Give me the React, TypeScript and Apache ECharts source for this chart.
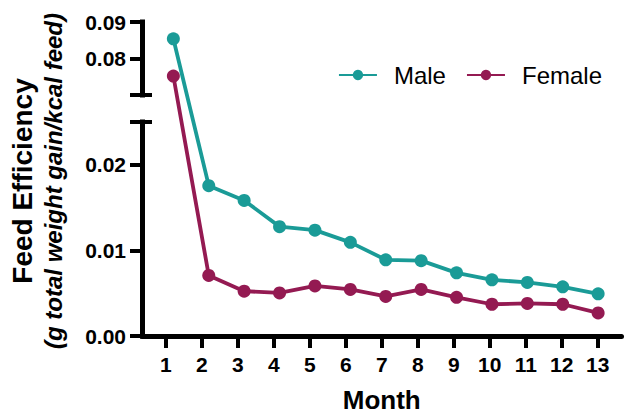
import React, { useEffect, useRef } from 'react';
import * as echarts from 'echarts';

// ---- data ----
const months = [1, 2, 3, 4, 5, 6, 7, 8, 9, 10, 11, 12, 13];
const maleValues = [0.0854, 0.0177, 0.016, 0.013, 0.0126, 0.0112, 0.0092, 0.0091, 0.0077, 0.0069, 0.0066, 0.0061, 0.0053];
const femaleValues = [0.0752, 0.0074, 0.0056, 0.0054, 0.0062, 0.0058, 0.005, 0.0058, 0.0049, 0.0041, 0.0042, 0.0041, 0.0031];
const seriesNames = ['Male', 'Female'];
const lowerTicks = [0, 0.01, 0.02];
const upperTicks = [0.08, 0.09];
const lowerRange = [0, 0.025];
const upperRange = [0.07, 0.09];

// ---- style / layout ----
const COLORS = ['#1a9b97', '#941a52'];
const FONT = '"Liberation Sans", Arial, Helvetica, sans-serif';
const LEFT = 142;
const RIGHT = 3.5;
const UPPER_TOP = 22;
const UPPER_H = 73;
const GAP_H = 27;
const LOWER_H = 218;
const LOWER_TOP = UPPER_TOP + UPPER_H + GAP_H;
const TOTAL_H = UPPER_H + GAP_H + LOWER_H;
const X_MIN = 0.34;
const X_MAX = 13.66;

// maps a value onto the broken axis (display units = pixels from the bottom)
function toDisplay(v: number): number {
  if (v <= lowerRange[1]) {
    return ((v - lowerRange[0]) / (lowerRange[1] - lowerRange[0])) * LOWER_H;
  }
  return LOWER_H + GAP_H + ((v - upperRange[0]) / (upperRange[1] - upperRange[0])) * UPPER_H;
}

const black = '#000';
const tickLabel = { color: black, fontFamily: FONT, fontWeight: 'bold' as const, fontSize: 21 };

function segmentAxes(gridIndex: number, range: number[], ticks: number[], topTick: boolean) {
  const capValue = topTick ? range[0] : range[1];
  return [
    {
      type: 'value',
      gridIndex,
      min: range[0],
      max: range[1],
      position: 'left',
      axisLine: { show: true, onZero: false, lineStyle: { color: black, width: 5, cap: 'square' } },
      axisTick: {
        show: true,
        length: 12,
        lineStyle: { color: black, width: 4 },
        customValues: topTick ? [range[0], ...ticks] : [...ticks, range[1]],
      },
      axisLabel: {
        ...tickLabel,
        margin: 16,
        customValues: ticks,
        formatter: (v: number) => v.toFixed(2),
      },
      splitLine: { show: false },
    },
    {
      type: 'value',
      gridIndex,
      min: range[0],
      max: range[1],
      position: 'left',
      axisLine: { show: false },
      axisTick: { show: true, inside: true, length: 10, lineStyle: { color: black, width: 4 }, customValues: [capValue] },
      axisLabel: { show: false },
      splitLine: { show: false },
    },
  ];
}

const option: any = {
  animation: false,
  backgroundColor: '#fff',
  grid: [
    { left: LEFT, right: RIGHT, top: LOWER_TOP, height: LOWER_H },
    { left: LEFT, right: RIGHT, top: UPPER_TOP, height: UPPER_H },
    { left: LEFT, right: RIGHT, top: UPPER_TOP, height: TOTAL_H },
  ],
  xAxis: [
    {
      type: 'value',
      gridIndex: 0,
      min: X_MIN,
      max: X_MAX,
      axisLine: { show: true, onZero: false, lineStyle: { color: black, width: 5 } },
      axisTick: { show: true, length: 12, lineStyle: { color: black, width: 4 }, customValues: months },
      axisLabel: { ...tickLabel, margin: 18, customValues: months },
      splitLine: { show: false },
      name: 'Month',
      nameLocation: 'middle',
      nameGap: 51,
      nameTextStyle: { color: black, fontFamily: FONT, fontWeight: 'bold', fontSize: 26 },
    },
    { type: 'value', gridIndex: 1, min: X_MIN, max: X_MAX, show: false },
    { type: 'value', gridIndex: 2, min: X_MIN, max: X_MAX, show: false },
  ],
  yAxis: [
    ...segmentAxes(0, lowerRange, lowerTicks, false),
    ...segmentAxes(1, upperRange, upperTicks, true),
    {
      type: 'value',
      gridIndex: 2,
      min: 0,
      max: TOTAL_H,
      position: 'left',
      axisLine: { show: false },
      axisTick: { show: false },
      axisLabel: { show: false },
      splitLine: { show: false },
      name: '{a|Feed Efficiency}\n{b|(g total weight gain/kcal feed)}',
      nameLocation: 'middle',
      nameRotate: 90,
      nameGap: 82,
      nameTextStyle: {
        color: black,
        fontFamily: FONT,
        rich: {
          a: { fontSize: 28, fontWeight: 'bold', fontFamily: FONT, color: black, lineHeight: 32 },
          b: { fontSize: 24, fontWeight: 'bold', fontStyle: 'italic', fontFamily: FONT, color: black, lineHeight: 30 },
        },
      },
    },
  ],
  legend: {
    data: seriesNames,
    right: 18,
    top: 58,
    itemWidth: 38,
    itemHeight: 13,
    itemGap: 20,
    textStyle: { color: black, fontFamily: FONT, fontSize: 24, padding: [0, 0, 0, 12] },
  },
  visualMap: [0, 1].map((i) => ({
    type: 'piecewise',
    show: false,
    seriesIndex: i,
    dimension: 1,
    pieces: [
      { gte: -1000, lte: LOWER_H, color: COLORS[i] },
      { gte: LOWER_H + GAP_H, lte: 10000, color: COLORS[i] },
    ],
    outOfRange: { color: 'rgba(255,255,255,0)' },
  })),
  series: [maleValues, femaleValues].map((vals, i) => ({
    name: seriesNames[i],
    type: 'line',
    xAxisIndex: 2,
    yAxisIndex: 4,
    data: months.map((m, j) => [m, toDisplay(vals[j])]),
    symbol: 'circle',
    symbolSize: 13,
    showSymbol: true,
    color: COLORS[i],
    lineStyle: { color: COLORS[i], width: 3.8 },
    itemStyle: { color: COLORS[i] },
    clip: false,
  })),
};

export default function App() {
  const ref = useRef<HTMLDivElement>(null);
  useEffect(() => {
    const chart = echarts.init(ref.current!, null, { renderer: 'svg' });
    chart.setOption(option);
    return () => chart.dispose();
  }, []);
  return <div ref={ref} style={{ position: 'absolute', left: 0, top: 0, width: 625, height: 418 }} />;
}
